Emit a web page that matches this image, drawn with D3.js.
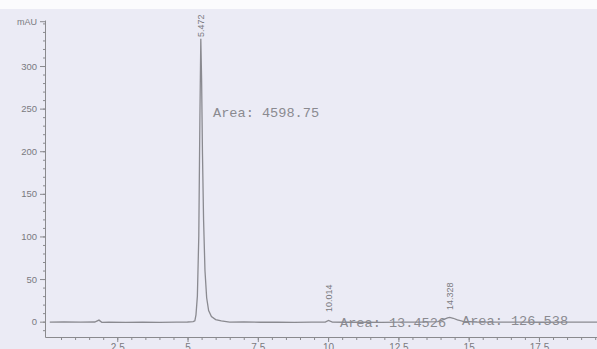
<!DOCTYPE html>
<html>
<head>
<meta charset="utf-8">
<script src="https://cdn.jsdelivr.net/npm/d3@7"></script>
<style>
  body { margin: 0; padding: 0; background: #ebebf5; }
  svg { display: block; }
  .axis path, .axis line { stroke: #8a8a8e; }
  .axis text { fill: #7a7a80; font-family: "Liberation Sans", Arial, sans-serif; font-size: 9.5px; }
</style>
</head>
<body>
<div id="chart"></div>
<script>
// chromatogram trace (time in min, signal in mAU)
var times = [0.1, 0.6, 1.2, 1.7, 1.85, 1.95, 2.2, 2.8, 3.4, 4.0, 4.6, 5.0, 5.2,
             5.26, 5.30, 5.35, 5.40, 5.44, 5.472, 5.50, 5.53, 5.57, 5.62, 5.68,
             5.75, 5.85, 6.0, 6.2, 6.5, 7.0, 7.6, 8.2, 8.8, 9.4, 9.9, 10.014,
             10.15, 10.6, 11.2, 11.9, 12.6, 13.3, 13.9, 14.1, 14.25, 14.328, 14.45,
             14.6, 14.8, 15.3, 16.0, 16.8, 17.6, 18.4, 19.2, 19.6];
var signal = [-0.5, -0.3, -0.6, -0.4, 1.8, -0.8, -0.5, -0.9, -0.6, -0.8, -0.5, -0.4, 0,
              1, 8, 30, 100, 240, 332, 285, 200, 120, 60, 28,
              13, 6, 2.5, 0.8, -0.5, -0.4, -0.7, -0.5, -0.8, -0.6, -0.5, 1.5,
              -0.6, -0.7, -0.5, -0.8, -0.6, -0.5, 0, 2.5, 4.5, 5, 4,
              2, 0.3, -0.4, -0.6, -0.5, -0.7, -0.6, -0.5, -0.6];

// integrated peaks: retention time, label, area text
var peakTimes = [5.472, 10.014, 14.328];
var peakLabels = ["5.472", "10.014", "14.328"];
var areaLabels = ["Area: 4598.75", "Area: 13.4526", "Area: 126.538"];

var yMajor = [0, 50, 100, 150, 200, 250, 300];
var xMajor = [2.5, 5, 7.5, 10, 12.5, 15, 17.5];

var width = 597, height = 349;

var x = d3.scaleLinear().domain([-0.07, 19.6]).range([45, 598]);
var y = d3.scaleLinear().domain([-18, 354]).range([337, 20]);

var svg = d3.select("#chart").append("svg")
    .attr("width", width)
    .attr("height", height);

svg.append("rect").attr("x", 0).attr("y", 0).attr("width", width).attr("height", height)
    .attr("fill", "#ebebf5");
// the paper's white top margin
svg.append("rect").attr("x", 0).attr("y", 0).attr("width", width).attr("height", 9)
    .attr("fill", "#fbfbfd");

//minor y ticks
svg.append("g")
    .attr("class", "axis")
    .attr("transform", "translate(45,0)")
    .call(d3.axisLeft(y).tickValues(d3.range(-10, 351, 10)).tickSize(2).tickFormat(""))
    .select(".domain").remove();

//y axis
var yAxis = d3.axisLeft(y).tickValues(yMajor).tickSize(5).tickPadding(3).tickSizeOuter(0);
svg.append("g")
    .attr("class", "axis")
    .attr("transform", "translate(45,0)")
    .call(yAxis);

// mAU unit label sits at the top tick
svg.append("line").attr("x1", 40).attr("x2", 45).attr("y1", y(352)).attr("y2", y(352))
    .attr("stroke", "#8a8a8e");
svg.append("text")
    .attr("x", 37).attr("y", y(352) + 3)
    .attr("text-anchor", "end")
    .attr("fill", "#7a7a80")
    .style("font-family", "Liberation Sans, Arial, sans-serif")
    .style("font-size", "9px")
    .text("mAU");

//minor x ticks
svg.append("g")
    .attr("class", "axis")
    .attr("transform", "translate(0,337)")
    .call(d3.axisBottom(x).tickValues(d3.range(0.5, 19.6, 0.5)).tickSize(3).tickFormat(""))
    .select(".domain").remove();

//x axis
svg.append("g")
    .attr("class", "axis")
    .attr("transform", "translate(0,337)")
    .call(d3.axisBottom(x).tickValues(xMajor).tickSize(5).tickPadding(2).tickSizeOuter(0)
        .tickFormat(function(d) { return d; }))
    .selectAll("text").style("font-size", "10px");

// trace
var trace = times.map(function(t, i) { return [t, signal[i]]; });
svg.append("path")
    .datum(trace)
    .attr("fill", "none")
    .attr("stroke", "#8a8a90")
    .attr("stroke-width", 1.3)
    .attr("d", d3.line()
        .x(function(d) { return x(d[0]); })
        .y(function(d) { return y(d[1]); }));

// retention time labels (rotated)
var rtTop = [37, 312, 310];
svg.selectAll("text.rt")
    .data(peakTimes)
    .enter()
    .append("text")
    .attr("class", "rt")
    .attr("transform", function(d, i) {
        return "translate(" + (x(d) + 3) + "," + rtTop[i] + ")rotate(-90)";
    })
    .attr("fill", "#7a7a80")
    .style("font-family", "Liberation Sans, Arial, sans-serif")
    .style("font-size", "9px")
    .text(function(d, i) { return peakLabels[i]; });

// area annotations
var areaPos = [[213, 117], [340, 327], [462, 325]];
svg.selectAll("text.area")
    .data(areaLabels)
    .enter()
    .append("text")
    .attr("class", "area")
    .attr("x", function(d, i) { return areaPos[i][0]; })
    .attr("y", function(d, i) { return areaPos[i][1]; })
    .attr("fill", "#8a8a90")
    .style("font-family", "Liberation Mono, Courier New, monospace")
    .style("font-size", "13.6px")
    .text(function(d) { return d; });
</script>
</body>
</html>
